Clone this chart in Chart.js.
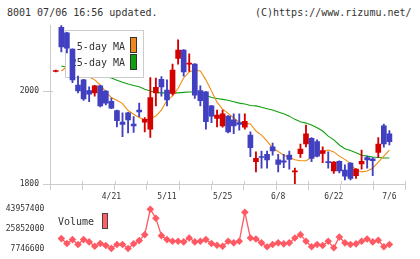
<!DOCTYPE html>
<html>
<head>
<meta charset="utf-8">
<script src="https://cdn.jsdelivr.net/npm/chart.js@4.4.0/dist/chart.umd.min.js"></script>
<style>
  html, body { margin: 0; padding: 0; background: #fff; }
  #wrap { position: relative; width: 420px; height: 259px; overflow: hidden; }
  canvas { position: absolute; left: 0; top: 0; }
  .hdr { position: absolute; top: 7px; font: 10px "DejaVu Sans Mono", monospace; line-height: 12px; color: #333; white-space: pre; }
</style>
</head>
<body>
<div id="wrap">
  <div class="hdr" style="left:7px">8001 07/06 16:56 updated.</div>
  <div class="hdr" style="left:255px">(C)https://www.rizumu.net/</div>
  <canvas id="price" width="420" height="259"></canvas>
  <canvas id="volume" width="420" height="259"></canvas>
</div>
<script>
// trading days, 2020/04/07 .. 2020/07/06
var dates = ['4/7','4/8','4/9','4/10','4/13','4/14','4/15','4/16','4/17','4/20',
  '4/21','4/22','4/23','4/24','4/27','4/28','4/30','5/1','5/7','5/8',
  '5/11','5/12','5/13','5/14','5/15','5/18','5/19','5/20','5/21','5/22',
  '5/25','5/26','5/27','5/28','5/29','6/1','6/2','6/3','6/4','6/5',
  '6/8','6/9','6/10','6/11','6/12','6/15','6/16','6/17','6/18','6/19',
  '6/22','6/23','6/24','6/25','6/26','6/29','6/30','7/1','7/2','7/3','7/6'];
var labelIdx = [10, 20, 30, 40, 50, 60];

var open  = [2042,2137,2125,2090,2013,2024,2001,1996,2011,2000,1978,1958,1933,1953,1929,1959,1933,1918,1996,2025,
  2002,1995,2070,2088,2058,2058,2001,1998,1968,1941,1925,1946,1938,1932,1922,1905,1848,1859,1864,1880,
  1852,1850,1862,1826,1865,1886,1898,1891,1866,1848,1828,1849,1830,1845,1818,1843,1857,1854,1868,1925,1908];
var high  = [2045,2141,2126,2091,2032,2025,2009,2012,2012,2001,1985,1959,1953,1954,1945,1974,1943,2029,2028,2031,
  2024,2058,2110,2089,2080,2059,2011,1999,1969,1959,1959,1947,1951,1951,1951,1912,1869,1871,1871,1888,
  1864,1864,1871,1834,1886,1927,1900,1895,1880,1869,1848,1850,1841,1846,1833,1873,1860,1857,1900,1929,1915];
var low   = [2041,2084,2082,2018,1996,1980,1977,1989,1966,1970,1962,1923,1902,1910,1911,1945,1912,1900,1968,1989,
  1968,1991,2058,2032,2042,1984,1968,1918,1932,1923,1922,1910,1908,1916,1918,1859,1826,1834,1834,1862,
  1826,1835,1832,1800,1857,1880,1848,1858,1846,1834,1823,1824,1809,1809,1812,1832,1834,1818,1857,1879,1884];
var close = [2044,2095,2092,2024,2000,1983,1993,2011,1968,1974,1963,1936,1928,1938,1925,1955,1939,1986,2008,2009,
  1981,2045,2088,2041,2060,1991,1979,1934,1946,1948,1951,1912,1925,1928,1935,1878,1855,1857,1852,1871,
  1842,1847,1853,1827,1875,1908,1855,1860,1872,1846,1847,1828,1817,1812,1832,1849,1852,1850,1886,1886,1891];

var ma5  = [null,2043,2052,2058,2050,2040,2030,2024,2013,1998,1986,1980,1973,1958,1950,1943,1938,1941,1946,1959,
  1980,1989,2006,2028,2041,2045,2043,2024,2000,1976,1961,1952,1942,1933,1931,1929,1914,1905,1892,1877,
  1870,1862,1857,1852,1850,1850,1857,1862,1869,1873,1869,1860,1853,1844,1830,1826,1828,1834,1847,1860,1873];
var ma25 = [null,2054,2051,2049,2047,2044,2040,2037,2034,2031,2028,2023,2019,2015,2012,2009,2004,2000,1997,1996,
  1996,1996,1996,1997,1998,1998,1998,1991,1986,1984,1982,1980,1977,1974,1972,1969,1968,1965,1962,1959,
  1955,1951,1946,1939,1934,1931,1927,1921,1914,1903,1895,1884,1876,1872,1867,1862,1860,1858,1857,1856,1856];

var volume = [null,16870000,12310000,15950000,11400000,15950000,13860000,9840000,12310000,10480000,
  7850000,11400000,11400000,7746600,12030000,15040000,20520000,43957400,35750000,19600000,
  15950000,14400000,14400000,13860000,17510000,13860000,14400000,15950000,12310000,10760000,
  9840000,14400000,12950000,14400000,41220000,17510000,16590000,12950000,9300000,11400000,
  12950000,12030000,12950000,17510000,20520000,14400000,9300000,11400000,10480000,14400000,
  8380000,18420000,12950000,11400000,12030000,14400000,16590000,13860000,15320000,9300000,11400000];

var priceTicks = [1800, 2000];
var volTicks = [7746600, 25852000, 43957400];

var UP = '#d40000', DOWN = '#4040c0';
var xMin = -1.04, xMax = 62.86;
var gridTicks = [];
for (var k = 0; k <= 11; k++) gridTicks.push(xMin + k * (xMax - xMin) / 11);

var candleColors = close.map((c, i) => c >= open[i] ? UP : DOWN);
var wickData = dates.map((d, i) => ({ x: i, y: [low[i], high[i]] }));
var bodyData = dates.map((d, i) => ({ x: i, y: [Math.min(open[i], close[i]), Math.max(open[i], close[i])] }));
var ma5Data = ma5.map((v, i) => ({ x: i, y: v }));
var ma25Data = ma25.map((v, i) => ({ x: i, y: v }));
var volData = volume.map((v, i) => ({ x: i, y: v }));

var tickFont = { family: 'DejaVu Sans Mono', size: 8 };
var axisGray = '#cccccc';

// legend box sits above the MA lines but under the candles
const maLegend = {
  id: 'maLegend',
  afterDatasetDraw(chart, args) {
    if (args.index !== 1) return;
    const c = chart.ctx;
    c.save();
    c.fillStyle = '#fff';
    c.fillRect(65, 30, 78, 47);
    c.strokeStyle = axisGray;
    c.lineWidth = 1;
    c.strokeRect(65.5, 30.5, 78, 47);
    c.font = '10px "DejaVu Sans Mono"';
    c.fillStyle = '#333';
    c.textAlign = 'right';
    c.textBaseline = 'middle';
    c.fillText('5-day MA', 125, 47);
    c.fillText('25-day MA', 125, 63);
    c.strokeStyle = '#333';
    c.fillStyle = '#f0881c';
    c.fillRect(130.5, 37.5, 6, 15);
    c.strokeRect(130.5, 37.5, 6, 15);
    c.fillStyle = '#10a010';
    c.fillRect(130.5, 54.5, 6, 15);
    c.strokeRect(130.5, 54.5, 6, 15);
    c.restore();
  }
};

// tick marks poke a few px into the plot
const crossTicks = {
  id: 'crossTicks',
  afterDraw(chart) {
    const c = chart.ctx, a = chart.chartArea;
    const xs = chart.scales.x, ys = chart.scales.y;
    c.save();
    c.strokeStyle = axisGray;
    c.lineWidth = 1;
    c.beginPath();
    gridTicks.forEach(v => {
      const px = Math.round(xs.getPixelForValue(v)) + 0.5;
      c.moveTo(px, a.bottom - 3);
      c.lineTo(px, a.bottom);
    });
    priceTicks.forEach(v => {
      const py = Math.round(ys.getPixelForValue(v)) + 0.5;
      c.moveTo(a.left, py);
      c.lineTo(a.left + 3, py);
    });
    c.stroke();
    c.restore();
  }
};

const ctxP = document.getElementById('price');
const priceChart = new Chart(ctxP, {
  type: 'line',
  data: {
    datasets: [
      { type: 'line', label: '25-day MA', data: ma25Data, borderColor: '#10a010', borderWidth: 1.1, pointRadius: 0, order: 4 },
      { type: 'line', label: '5-day MA', data: ma5Data, borderColor: '#f08c10', borderWidth: 1.1, pointRadius: 0, order: 3 },
      { type: 'bar', label: 'wick', data: wickData, backgroundColor: candleColors, barThickness: 1.2, grouped: false, order: 2 },
      { type: 'bar', label: 'body', data: bodyData, backgroundColor: candleColors, barThickness: 5, minBarLength: 1, grouped: false, order: 1 }
    ]
  },
  options: {
    responsive: false,
    animation: false,
    layout: { padding: { top: 25, right: 14.7, left: 0, bottom: 0 } },
    plugins: { legend: { display: false }, tooltip: { enabled: false } },
    scales: {
      x: {
        type: 'linear', min: xMin, max: xMax, offset: false,
        afterBuildTicks: s => {
          var t = gridTicks.map(v => ({ value: v, lab: '' }))
            .concat(labelIdx.map(v => ({ value: v, lab: dates[v] })));
          t.sort((a, b) => a.value - b.value);
          s.ticks = t;
        },
        afterFit: s => { s.height = 75; },
        grid: {
          offset: false, drawOnChartArea: false, drawTicks: true, tickLength: 6,
          color: ctx => (ctx.tick && ctx.tick.lab) ? 'rgba(0,0,0,0)' : axisGray
        },
        border: { color: axisGray },
        ticks: {
          autoSkip: false, maxRotation: 0, padding: 2.5, font: tickFont, color: '#333',
          callback: (v, i, t) => t[i].lab
        }
      },
      y: {
        min: 1800, max: 2142,
        afterBuildTicks: s => { s.ticks = priceTicks.map(v => ({ value: v })); },
        afterFit: s => { s.width = 50; },
        grid: { drawOnChartArea: false, drawTicks: true, tickLength: 7, color: axisGray },
        border: { color: axisGray },
        ticks: { padding: 4, font: tickFont, color: '#333', callback: v => String(v) }
      }
    }
  },
  plugins: [maLegend, crossTicks]
});

const volLegend = {
  id: 'volLegend',
  afterDraw(chart) {
    const c = chart.ctx;
    c.save();
    c.font = '10px "DejaVu Sans Mono"';
    c.fillStyle = '#333';
    c.textAlign = 'left';
    c.textBaseline = 'middle';
    c.fillText('Volume', 58, 222);
    c.fillStyle = '#ff6064';
    c.strokeStyle = '#444';
    c.lineWidth = 1;
    c.fillRect(102.5, 213.5, 5, 15);
    c.strokeRect(102.5, 213.5, 5, 15);
    c.restore();
  }
};

const ctxV = document.getElementById('volume');
const volChart = new Chart(ctxV, {
  type: 'line',
  data: {
    datasets: [{
      label: 'Volume', data: volData, borderColor: '#ff5a64', backgroundColor: '#ff5a64',
      borderWidth: 1.3, pointStyle: 'rectRot', pointRadius: 3.8, pointBorderWidth: 0, clip: false
    }]
  },
  options: {
    responsive: false,
    animation: false,
    layout: { padding: { top: 209.3, right: 14.7, left: 0, bottom: 10 } },
    plugins: { legend: { display: false }, tooltip: { enabled: false } },
    scales: {
      x: { type: 'linear', min: xMin, max: xMax, display: false },
      y: {
        min: 7746600, max: 43957400,
        afterBuildTicks: s => { s.ticks = volTicks.map(v => ({ value: v })); },
        afterFit: s => { s.width = 50; },
        grid: { display: false, drawTicks: false },
        border: { display: false },
        ticks: { padding: 5.7, font: tickFont, color: '#333', callback: v => String(v) }
      }
    }
  },
  plugins: [volLegend]
});
</script>
</body>
</html>
